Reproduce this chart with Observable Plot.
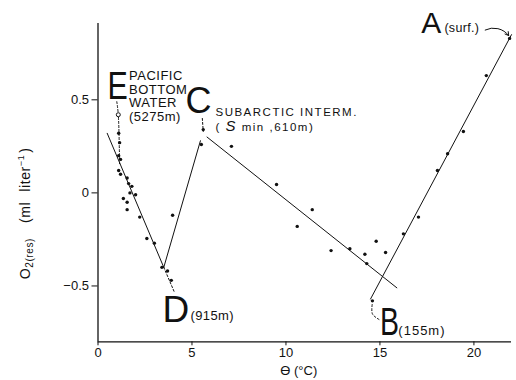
<!DOCTYPE html>
<html><head><meta charset="utf-8">
<script src="https://cdn.jsdelivr.net/npm/d3@7"></script>
<script src="https://cdn.jsdelivr.net/npm/@observablehq/plot@0.6"></script>
<style>body{margin:0;background:#fff}#chart svg{display:block}</style>
</head><body><div id="chart"></div>
<script>
// Observations: potential temperature (°C) and residual O2 (ml/l)
const pointTheta = [21.9, 20.66, 19.44, 18.6, 18.06, 17.05, 16.25, 14.6,
  5.5, 5.6, 7.1, 9.5, 11.4, 10.6, 12.4, 13.4, 14.2, 14.3, 14.8, 15.3,
  3.97,
  1.1, 1.15, 1.1, 1.2, 1.1, 1.2, 1.55, 1.63, 1.8, 1.35, 1.55, 1.55, 1.7, 2.0, 2.22, 2.6, 3.0, 3.4, 3.7, 3.9];
const pointO2 = [0.83, 0.63, 0.33, 0.21, 0.12, -0.13, -0.22, -0.58,
  0.26, 0.34, 0.25, 0.045, -0.09, -0.18, -0.31, -0.30, -0.33, -0.38, -0.26, -0.32,
  -0.12,
  0.32, 0.27, 0.20, 0.18, 0.12, 0.10, 0.08, 0.05, 0.035, -0.03, -0.05, -0.09, 0.0, -0.01, -0.13, -0.245, -0.27, -0.40, -0.42, -0.47];

// Fitted segments
const segId = ["ED", "ED", "DC", "DC", "CB", "CB", "BA", "BA"];
const segTheta = [0.49, 3.5, 3.5, 5.45, 5.8, 15.9, 14.5, 22.0];
const segO2 = [0.32, -0.40, -0.40, 0.28, 0.30, -0.51, -0.57, 0.85];

// Dashed connectors from labels to points
const connId = ["E", "E", "E", "C", "C", "D", "D", "B", "B", "B"];
const connTheta = [1.0, 1.08, 1.15, 5.55, 5.6, 3.5, 4.05, 14.95, 14.6, 14.6];
const connO2 = [0.49, 0.42, 0.15, 0.40, 0.33, -0.40, -0.53, -0.68, -0.65, -0.59];
const markerTheta = [1.08];
const markerO2 = [0.42];

// Water-mass letters
const bigText = ["E", "C", "A", "B", "D"];
const bigTheta = [0.5, 4.65, 17.2, 15.0, 3.43];
const bigO2 = [0.503, 0.427, 0.858, -0.761, -0.696];
const bigSize = [38, 36, 30, 38, 37];
const bigStretch = [0.8, 1, 1, 0.75, 1];

// Notes
const noteText = ["PACIFIC\nBOTTOM\nWATER\n(5275m)", "SUBARCTIC INTERM.\n( S min ,610m)", "(surf.)", "(155m)", "(915m)"];
const noteTheta = [1.65, 6.25, 18.43, 15.98, 4.92];
const noteO2 = [0.655, 0.47, 0.863, -0.761, -0.685];
const noteAnchor = ["top", "top", "bottom", "bottom", "bottom"];
const noteSize = [13, 11.5, 12.5, 13, 13];
const noteLine = [1.03, 1.3, 1, 1, 1];
const noteSpacing = [0.5, 1.5, 0.3, 1, 0.4];

// Arrow from "(surf.)" to the surface point
const arrowFrom = [20.6, 0.875];
const arrowTo = [21.85, 0.845];

const xTicks = [0, 5, 10, 15, 20];
const yTicks = [-0.5, 0, 0.5];
const xDomain = [0, 22];
const yDomain = [-0.8, 0.91];
const xLabel = "ϴ (°C)";
const yLabel = "O2(res)  (ml liter-1)";

const points = pointTheta.map((t, i) => ({t, o: pointO2[i]}));
const segs = segId.map((id, i) => ({id, t: segTheta[i], o: segO2[i]}));
const conns = connId.map((id, i) => ({id, t: connTheta[i], o: connO2[i]}));
const bigs = bigText.map((s, i) => ({s, t: bigTheta[i], o: bigO2[i], f: bigSize[i], k: bigStretch[i]}));
const notes = noteText.map((s, i) => ({s, t: noteTheta[i], o: noteO2[i], a: noteAnchor[i], f: noteSize[i], lh: noteLine[i], ls: noteSpacing[i]}));

const fmtY = d => d === 0 ? "0" : d3.format(".1f")(d).replace("-", "−");

const chart = Plot.plot({
  width: 516, height: 380,
  marginLeft: 97.5, marginRight: 5, marginTop: 23, marginBottom: 38.7,
  x: {domain: xDomain},
  y: {domain: yDomain},
  style: {fontFamily: "Liberation Sans, Arial, sans-serif", fontSize: "13px", color: "#111", background: "#fff"},
  marks: [
    Plot.ruleX([xDomain[0]], {stroke: "#111", strokeWidth: 1.3}),
    Plot.ruleY([yDomain[0]], {stroke: "#111", strokeWidth: 1.3}),
    Plot.axisY({ticks: yTicks, tickSize: 6, tickPadding: 3, label: null, fontSize: 13, tickFormat: fmtY}),
    Plot.axisX({ticks: xTicks, tickSize: 4, tickPadding: 2, label: null, fontSize: 13}),
    Plot.line(segs, {x: "t", y: "o", z: "id", stroke: "#111", strokeWidth: 1}),
    Plot.line(conns, {x: "t", y: "o", z: "id", stroke: "#111", strokeWidth: 1, strokeDasharray: "2,2", curve: "catmull-rom"}),
    Plot.dot(markerTheta.map((t, i) => ({t, o: markerO2[i]})), {x: "t", y: "o", r: 2, stroke: "#111", strokeWidth: 1, fill: "#fff"}),
    Plot.dot(points, {x: "t", y: "o", r: 1.7, fill: "#111", stroke: "none"}),
    Plot.arrow([{x1: arrowFrom[0], y1: arrowFrom[1], x2: arrowTo[0], y2: arrowTo[1]}], {x1: "x1", y1: "y1", x2: "x2", y2: "y2", bend: 40, headLength: 6, stroke: "#111", strokeWidth: 1}),
    ...bigs.map(b => Plot.text([b], {x: "t", y: "o", text: "s", textAnchor: "start", lineAnchor: "bottom", fontSize: b.f, fill: "#111", className: "big-" + b.s})),
    ...notes.map((n, i) => Plot.text([n], {x: "t", y: "o", text: "s", textAnchor: "start", lineAnchor: n.a, fontSize: n.f, lineHeight: n.lh, fill: "#111", className: "note-" + i})),
    Plot.text([xLabel], {x: 10.68, y: -0.954, text: d => d, fontSize: 13, lineAnchor: "middle"}),
    Plot.text([yLabel], {x: -3.86, y: -0.11, text: d => d, fontSize: 14, rotate: -90, lineAnchor: "middle", textAnchor: "middle"})
  ]
});
document.getElementById("chart").appendChild(chart);

const NS = "http://www.w3.org/2000/svg";
// Narrow hand-lettered capitals
bigs.forEach(b => {
  const t = chart.querySelector(".big-" + b.s + " text");
  if (t && b.k !== 1) t.setAttribute("transform", (t.getAttribute("transform") || "") + ` scale(${b.k},1)`);
});
notes.forEach((n, i) => {
  const t = chart.querySelector(".note-" + i + " text");
  if (t) t.style.letterSpacing = n.ls + "px";
});
// Typographic touches: italic S, subscripts and superscripts
for (const t of chart.querySelectorAll("text")) {
  const c = t.textContent;
  if (c.startsWith("SUBARCTIC")) {
    const sp = t.querySelectorAll("tspan")[1];
    if (sp) {
      sp.textContent = "";
      const a = document.createElementNS(NS, "tspan"); a.textContent = "( ";
      const b = document.createElementNS(NS, "tspan"); b.textContent = "S"; b.setAttribute("font-style", "italic"); b.setAttribute("font-size", "15");
      const d = document.createElementNS(NS, "tspan"); d.textContent = " min ,610m)";
      sp.append(a, b, d);
    }
  }
  if (c === yLabel) {
    t.textContent = "";
    t.style.letterSpacing = "0.6px";
    const mk = (s, attrs) => { const e = document.createElementNS(NS, "tspan"); e.textContent = s; for (const k in attrs) e.setAttribute(k, attrs[k]); t.appendChild(e); };
    mk("O", {});
    mk("2(res)", {"font-size": 10, dy: 3});
    mk("(ml", {dy: -3, dx: 15});
    mk("liter", {dx: 10});
    mk("−1", {"font-size": 9, dy: -6});
    mk(")", {dy: 6, dx: 2});
  }
}
</script>
</body></html>
